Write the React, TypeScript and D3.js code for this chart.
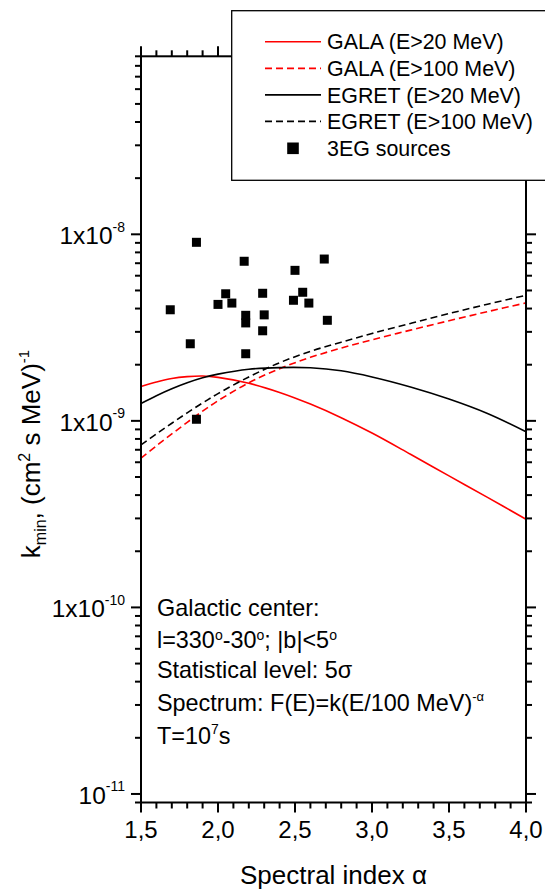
import React from "react";
import * as d3 from "d3";

// sensitivity curves
const alphaGrid = [1.5, 1.6, 1.7, 1.8, 1.9, 2.0, 2.2, 2.4, 2.6, 2.8, 3.0, 3.25, 3.5, 3.75, 4.0];
const galaE20 = [1.53e-9, 1.615e-9, 1.687e-9, 1.726e-9, 1.74e-9, 1.71e-9, 1.59e-9, 1.42e-9, 1.23e-9, 1.04e-9, 8.6e-10, 6.62e-10, 5.07e-10, 3.89e-10, 2.97e-10];
const galaE100 = [6.31e-10, 7.35e-10, 8.51e-10, 9.82e-10, 1.127e-9, 1.282e-9, 1.6e-9, 1.905e-9, 2.19e-9, 2.455e-9, 2.72e-9, 3.065e-9, 3.44e-9, 3.85e-9, 4.29e-9];
const egretE20 = [1.24e-9, 1.365e-9, 1.487e-9, 1.601e-9, 1.703e-9, 1.78e-9, 1.89e-9, 1.93e-9, 1.925e-9, 1.855e-9, 1.72e-9, 1.52e-9, 1.31e-9, 1.096e-9, 8.75e-10];
const egretE100 = [7.43e-10, 8.51e-10, 9.71e-10, 1.104e-9, 1.247e-9, 1.4e-9, 1.72e-9, 2.05e-9, 2.36e-9, 2.64e-9, 2.94e-9, 3.33e-9, 3.76e-9, 4.22e-9, 4.71e-9];

// 3EG sources
const srcAlpha = [1.69, 1.82, 1.86, 1.86, 2.0, 2.05, 2.09, 2.17, 2.18, 2.18, 2.18, 2.29, 2.3, 2.29, 2.49, 2.5, 2.55, 2.59, 2.69, 2.71];
const srcK = [3.94e-9, 2.59e-9, 9.06e-9, 1.02e-9, 4.21e-9, 4.8e-9, 4.28e-9, 7.17e-9, 3.68e-9, 3.35e-9, 2.29e-9, 4.83e-9, 3.7e-9, 3.04e-9, 4.43e-9, 6.41e-9, 4.89e-9, 4.28e-9, 7.37e-9, 3.46e-9];

const xTicks = [1.5, 2.0, 2.5, 3.0, 3.5, 4.0];
const yTicks = [1e-11, 1e-10, 1e-9, 1e-8];
const yTickMant = ["10", "1x10", "1x10", "1x10"];
const yTickExp = ["-11", "-10", "-9", "-8"];

const legendLabels = ["GALA (E>20 MeV)", "GALA (E>100 MeV)", "EGRET (E>20 MeV)", "EGRET (E>100 MeV)", "3EG sources"];

const FONT = "Arial, 'Liberation Sans', sans-serif";

export default function App() {
  const left = 141, right = 526, top = 56.3, bottom = 802.5;

  const x = d3.scaleLinear().domain([1.5, 4.0]).range([left, right]);
  const y = d3.scaleLog().domain([9e-12, 9e-8]).range([bottom, top]);

  const line = (vals: number[]) =>
    d3
      .line<number>()
      .x((d, i) => x(alphaGrid[i]))
      .y((d) => y(d))
      .curve(d3.curveCatmullRom.alpha(0.5))(vals) as string;

  const series = [
    { vals: galaE20, color: "#ff0000", dash: null },
    { vals: galaE100, color: "#ff0000", dash: "7,4" },
    { vals: egretE20, color: "#000000", dash: null },
    { vals: egretE100, color: "#000000", dash: "7,4" },
  ];

  const xMinor = d3.range(15, 41).map((v) => v / 10);
  const yMinor: number[] = [];
  for (let e = -12; e <= -8; e++) {
    for (let m = 2; m <= 9; m++) {
      const v = m * Math.pow(10, e);
      if (v >= 9e-12 * 0.999 && v <= 9e-8 * 1.001) yMinor.push(v);
    }
  }

  const legendX = 231.7, legendY = 10.7;
  const rowBase = [49.3, 76, 102.5, 129, 155.7];

  return (
    <svg
      width={545}
      height={890}
      style={{ position: "absolute", left: 0, top: 0, background: "#fff" }}
      fontFamily={FONT}
    >
      <rect x={0} y={0} width={545} height={890} fill="#fff" />

      {/* curves */}
      {series.map((s, i) => (
        <path
          key={i}
          d={line(s.vals)}
          fill="none"
          stroke={s.color}
          strokeWidth={1.6}
          strokeDasharray={s.dash || undefined}
        />
      ))}

      {/* sources */}
      {srcAlpha.map((a, i) => (
        <rect key={i} x={x(a) - 4.5} y={y(srcK[i]) - 4.5} width={9} height={9} fill="#000" />
      ))}

      {/* frame */}
      <rect x={left} y={top} width={right - left} height={bottom - top} fill="none" stroke="#000" strokeWidth={2} />

      {/* x ticks, bottom and top */}
      {xMinor.map((v, i) => {
        const major = Math.abs(v * 2 - Math.round(v * 2)) < 1e-6;
        const len = major ? 10 : 6;
        return (
          <g key={i} stroke="#000" strokeWidth={2}>
            <line x1={x(v)} x2={x(v)} y1={bottom} y2={bottom + len} />
            <line x1={x(v)} x2={x(v)} y1={top} y2={top - len} />
          </g>
        );
      })}
      {xTicks.map((v, i) => (
        <text key={i} x={x(v)} y={838} fontSize={24} textAnchor="middle">
          {v.toFixed(1).replace(".", ",")}
        </text>
      ))}

      {/* y ticks, left and right */}
      {yMinor.map((v, i) => (
        <g key={i} stroke="#000" strokeWidth={2}>
          <line x1={left} x2={left - 6} y1={y(v)} y2={y(v)} />
          <line x1={right} x2={right + 6} y1={y(v)} y2={y(v)} />
        </g>
      ))}
      {yTicks.map((v, i) => (
        <g key={i}>
          <line x1={left} x2={left - 10} y1={y(v)} y2={y(v)} stroke="#000" strokeWidth={2} />
          <line x1={right} x2={right + 10} y1={y(v)} y2={y(v)} stroke="#000" strokeWidth={2} />
          <text x={125} y={y(v) + 10} fontSize={24.5} textAnchor="end">
            {yTickMant[i]}
            <tspan fontSize={14} dy={-12.5}>{yTickExp[i]}</tspan>
          </text>
        </g>
      ))}

      {/* axis titles */}
      <text x={333.5} y={884} fontSize={26} textAnchor="middle">
        Spectral index α
      </text>
      <text transform="translate(40,454) rotate(-90)" fontSize={26} textAnchor="middle">
        k
        <tspan fontSize={16} dy={6}>min</tspan>
        <tspan dy={-6}>, (cm</tspan>
        <tspan fontSize={16} dy={-10}>2</tspan>
        <tspan dy={10}> s MeV)</tspan>
        <tspan fontSize={15} dy={-11}>-1</tspan>
      </text>

      {/* annotation */}
      <g fontSize={23.4}>
        <text x={157} y={616}>Galactic center:</text>
        <text x={157} y={648}>
          l=330<tspan fontSize={14} dy={-8}>o</tspan>
          <tspan dy={8}>-30</tspan>
          <tspan fontSize={14} dy={-8}>o</tspan>
          <tspan dy={8}>; |b|&lt;5</tspan>
          <tspan fontSize={14} dy={-8}>o</tspan>
        </text>
        <text x={157} y={677.5}>Statistical level: 5σ</text>
        <text x={157} y={711}>
          Spectrum: F(E)=k(E/100 MeV)
          <tspan fontSize={13} dy={-10}>-α</tspan>
        </text>
        <text x={157} y={744}>
          T=10<tspan fontSize={14} dy={-10}>7</tspan>
          <tspan dy={10}>s</tspan>
        </text>
      </g>

      {/* legend */}
      <rect x={legendX} y={legendY} width={340} height={169.6} fill="#fff" stroke="#000" strokeWidth={1.3} />
      {series.map((s, i) => (
        <line
          key={i}
          x1={265}
          x2={321}
          y1={rowBase[i] - 7.6}
          y2={rowBase[i] - 7.6}
          stroke={s.color}
          strokeWidth={1.6}
          strokeDasharray={s.dash || undefined}
        />
      ))}
      <rect x={293 - 5.8} y={rowBase[4] - 7.4 - 5.8} width={11.6} height={11.6} fill="#000" />
      {legendLabels.map((l, i) => (
        <text key={i} x={327} y={rowBase[i]} fontSize={21.4}>
          {l}
        </text>
      ))}
    </svg>
  );
}
